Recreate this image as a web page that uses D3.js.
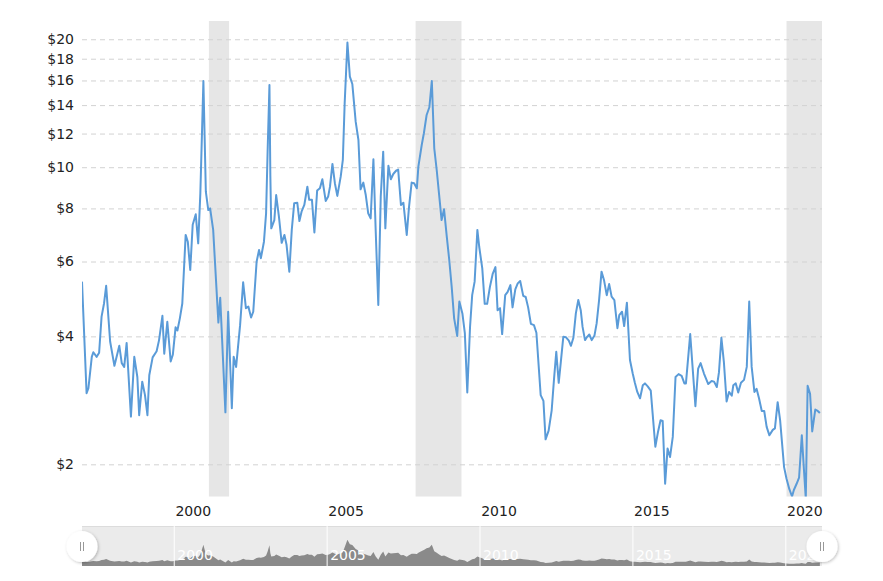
<!DOCTYPE html>
<html><head><meta charset="utf-8">
<script src="https://cdn.jsdelivr.net/npm/d3@7/dist/d3.min.js"></script>
<style>
html,body{margin:0;padding:0;background:#fff;}
svg{display:block;font-family:"DejaVu Sans",Verdana,sans-serif;}
</style></head><body>
<svg id="c" width="883" height="581"></svg>
<script>
// ---- data (decimal year, price in $) ----
const dates = [1997.00,1997.15,1997.21,1997.32,1997.37,1997.48,1997.56,1997.64,1997.72,1997.79,1997.92,
1998.06,1998.22,1998.30,1998.38,1998.46,1998.60,1998.71,1998.81,1998.87,1998.97,
1999.06,1999.14,1999.20,1999.31,1999.44,1999.52,1999.63,1999.69,1999.79,1999.90,1999.97,
2000.06,2000.12,2000.20,2000.28,2000.39,2000.46,2000.54,2000.62,2000.72,2000.80,2000.87,2000.97,
2001.05,2001.13,2001.19,2001.29,2001.46,2001.52,2001.69,2001.78,2001.90,2001.96,
2002.04,2002.17,2002.27,2002.36,2002.44,2002.53,2002.60,2002.71,2002.79,2002.85,2002.95,
2003.02,2003.07,2003.13,2003.16,2003.19,2003.29,2003.35,2003.44,2003.53,2003.62,2003.69,2003.78,2003.86,2003.94,
2004.04,2004.11,2004.18,2004.27,2004.37,2004.43,2004.52,2004.60,2004.69,2004.78,2004.86,2004.97,
2005.05,2005.11,2005.19,2005.27,2005.35,2005.46,2005.53,2005.59,2005.68,2005.76,2005.84,2005.95,
2006.04,2006.11,2006.20,2006.28,2006.36,2006.44,2006.53,2006.60,2006.69,2006.77,2006.85,2006.92,
2007.02,2007.10,2007.18,2007.27,2007.34,2007.43,2007.51,2007.62,2007.69,2007.78,2007.86,2007.95,
2008.00,2008.11,2008.18,2008.27,2008.36,2008.44,2008.52,2008.60,2008.68,2008.76,2008.84,2008.93,
2009.01,2009.09,2009.17,2009.27,2009.34,2009.44,2009.52,2009.60,2009.69,2009.76,2009.84,2009.93,2009.99,
2010.09,2010.17,2010.25,2010.34,2010.43,2010.52,2010.59,2010.67,2010.74,2010.84,2010.92,
2011.01,2011.08,2011.17,2011.25,2011.33,2011.43,2011.51,2011.59,2011.68,2011.78,2011.86,
2012.00,2012.09,2012.16,2012.26,2012.36,2012.44,2012.51,2012.59,2012.66,2012.74,2012.83,2012.92,2012.99,
2013.07,2013.15,2013.23,2013.31,2013.37,2013.45,2013.52,2013.59,2013.67,2013.76,2013.83,2013.91,2013.99,
2014.07,2014.16,2014.24,2014.32,2014.41,2014.51,2014.57,2014.66,2014.73,2014.82,2014.92,
2015.01,2015.08,2015.16,2015.25,2015.34,2015.41,2015.50,2015.60,2015.66,2015.75,2015.84,2015.92,2015.99,
2016.07,2016.15,2016.23,2016.32,2016.41,2016.51,2016.61,2016.70,2016.75,2016.89,
2017.06,2017.15,2017.23,2017.34,2017.48,2017.59,2017.67,2017.76,2017.83,2017.91,2017.99,
2018.08,2018.16,2018.25,2018.30,2018.38,2018.46,2018.55,2018.65,2018.74,2018.82,2018.90,2018.99,
2019.06,2019.14,2019.23,2019.31,2019.39,2019.48,2019.59,2019.66,2019.75,2019.83,2019.96,
2020.04,2020.13,2020.22,2020.28,2020.37,2020.45,2020.54,2020.61,2020.67,2020.73,2020.81,2020.88,2020.98,
2021.06,2021.13];
const prices = [5.38,2.94,3.02,3.58,3.67,3.58,3.66,4.45,4.78,5.26,3.89,
3.41,3.80,3.46,3.39,3.86,2.59,3.58,3.21,2.61,3.13,
2.91,2.61,3.24,3.57,3.69,3.92,4.47,3.64,4.33,3.49,3.62,
4.20,4.13,4.41,4.78,6.93,6.68,5.73,7.32,7.75,6.62,8.68,15.96,
8.76,7.93,8.00,7.12,4.31,4.93,2.65,4.57,2.71,3.58,
3.39,4.25,5.36,4.66,4.70,4.43,4.57,5.99,6.39,6.11,6.68,
7.79,10.88,15.61,9.50,7.18,7.51,8.60,7.65,6.64,6.93,6.56,5.68,7.12,8.23,
8.25,7.47,7.86,8.15,9.00,8.38,8.38,7.02,8.81,8.92,9.37,8.33,
8.53,9.00,10.18,9.17,8.56,9.50,10.40,14.14,19.64,16.33,15.70,12.80,
11.59,8.87,9.20,8.60,7.79,7.58,10.44,7.25,4.74,8.53,10.88,7.18,
10.08,9.37,9.64,9.81,9.87,8.15,8.25,6.93,8.00,9.20,9.17,8.92,
10.03,11.28,12.02,13.27,13.84,15.96,11.08,9.85,8.60,7.51,7.96,6.86,
6.05,5.23,4.41,4.01,4.83,4.53,4.07,2.95,4.21,5.00,5.38,7.12,6.50,
5.78,4.77,4.77,5.23,5.61,5.82,4.61,4.66,4.05,5.00,5.09,
5.28,4.68,5.16,5.33,5.40,4.98,4.95,4.68,4.28,4.25,4.08,
2.91,2.82,2.29,2.40,2.68,3.20,3.68,3.11,3.49,3.99,3.98,3.91,3.80,
3.97,4.53,4.87,4.61,4.21,3.92,3.99,4.04,3.92,4.02,4.29,4.87,5.68,
5.43,5.00,5.31,4.96,4.87,4.18,4.49,4.57,4.23,4.80,3.52,
3.27,3.11,2.96,2.86,3.07,3.10,3.05,2.98,2.64,2.20,2.39,2.54,2.53,
1.80,2.18,2.08,2.32,3.21,3.26,3.23,3.10,3.10,4.05,
2.74,3.36,3.46,3.27,3.09,3.14,3.13,3.04,3.29,3.97,3.49,
2.81,2.96,2.90,3.07,3.10,2.95,3.11,3.16,3.39,4.83,3.39,2.96,
3.01,2.86,2.67,2.67,2.45,2.34,2.41,2.43,2.80,2.54,1.97,
1.85,1.75,1.68,1.74,1.80,1.86,2.34,1.94,1.66,3.06,2.93,2.39,2.69,
2.67,2.64];
const recessionStart = [2001.15, 2007.91, 2020.04];
const recessionEnd   = [2001.81, 2009.41, 2021.20];
const yTicks = [2, 4, 6, 8, 10, 12, 14, 16, 18, 20];
const xTicks = [2000, 2005, 2010, 2015, 2020];

// ---- layout ----
const svg = d3.select("#c");
const L = 82, R = 822, T = 21, B = 496.5;
const navT = 526, navB = 566;
const x = d3.scaleLinear().domain([1997.0, 2021.2]).range([L, R]);
const y = d3.scaleLog().domain([1.68, 22.08]).range([B, T]);
const yNav = d3.scaleLinear().domain([0, 30]).range([navB, navT]);
const data = dates.map((d, i) => ({t: d, v: prices[i]}));

svg.append("defs").append("clipPath").attr("id", "clip")
  .append("rect").attr("x", L).attr("y", T).attr("width", R - L).attr("height", B - T);

// recession bands
svg.append("g").selectAll("rect").data(recessionStart).join("rect")
  .attr("x", (d) => x(d)).attr("y", T)
  .attr("width", (d, i) => x(recessionEnd[i]) - x(d)).attr("height", B - T)
  .attr("fill", "#e6e6e6");

// y grid + labels
const yAxis = d3.axisLeft(y).tickValues(yTicks).tickSize(-(R - L)).tickFormat(d => "$" + d);
const gy = svg.append("g").attr("transform", `translate(${L},0)`).call(yAxis);
gy.select(".domain").remove();
gy.selectAll(".tick line").attr("stroke", "#d2d2d2").attr("stroke-dasharray", "5,4");
gy.selectAll(".tick text").attr("x", -8).attr("fill", "#222")
  .style("font-size", "14px").style("font-family", "DejaVu Sans, Verdana, sans-serif");

// x labels (main)
const xAxis = d3.axisBottom(x).tickValues(xTicks).tickSize(0).tickFormat(d3.format("d"));
const gx = svg.append("g").attr("transform", `translate(0,${B})`).call(xAxis);
gx.select(".domain").remove();
gx.selectAll(".tick text").attr("x", 19).attr("y", 10).attr("dy", "0.71em").attr("fill", "#222")
  .style("font-size", "14px").style("font-family", "DejaVu Sans, Verdana, sans-serif");

// main line
const line = d3.line().x(d => x(d.t)).y(d => y(d.v));
svg.append("path").datum(data).attr("clip-path", "url(#clip)")
  .attr("fill", "none").attr("stroke", "#5a9bd8").attr("stroke-width", 2)
  .attr("stroke-linejoin", "round").attr("d", line);

// ---- navigator ----
const nav = svg.append("g");
nav.append("rect").attr("x", L).attr("y", navT).attr("width", R - L).attr("height", navB - navT)
  .attr("fill", "#ebebeb");
nav.append("line").attr("x1", L).attr("x2", R).attr("y1", navT + 0.5).attr("y2", navT + 0.5)
  .attr("stroke", "#dcdcdc");
const area = d3.area().x(d => x(d.t)).y0(navB).y1(d => yNav(d.v));
nav.append("path").datum(data).attr("fill", "#8a8a8a").attr("d", area);
const navAxis = d3.axisTop(x).tickValues(xTicks).tickSize(-(navB - navT)).tickFormat(d3.format("d"));
const gn = nav.append("g").attr("transform", `translate(0,${navT})`).call(navAxis);
gn.select(".domain").remove();
gn.selectAll(".tick line").attr("stroke", "#fff").attr("stroke-width", 1);
gn.selectAll(".tick text").attr("x", 3).attr("y", 34).attr("dy", 0).attr("text-anchor", "start")
  .attr("fill", "#fff").style("font-size", "14px").style("font-family", "DejaVu Sans, Verdana, sans-serif");

// handles
const defs = svg.select("defs");
const f = defs.append("filter").attr("id", "sh").attr("x", "-50%").attr("y", "-50%").attr("width", "200%").attr("height", "200%");
f.append("feDropShadow").attr("dx", 1).attr("dy", 1).attr("stdDeviation", 1.5).attr("flood-color", "#000").attr("flood-opacity", 0.25);
const hY = 546.5;
[x.range()[0], x.range()[1]].forEach(hx => {
  const h = nav.append("g").attr("transform", `translate(${hx},${hY})`);
  h.append("circle").attr("r", 15.5).attr("fill", "#fff").attr("filter", "url(#sh)");
  h.append("line").attr("x1", -1.5).attr("x2", -1.5).attr("y1", -4.5).attr("y2", 4.5).attr("stroke", "#999");
  h.append("line").attr("x1", 1.5).attr("x2", 1.5).attr("y1", -4.5).attr("y2", 4.5).attr("stroke", "#999");
});
</script>
</body></html>
